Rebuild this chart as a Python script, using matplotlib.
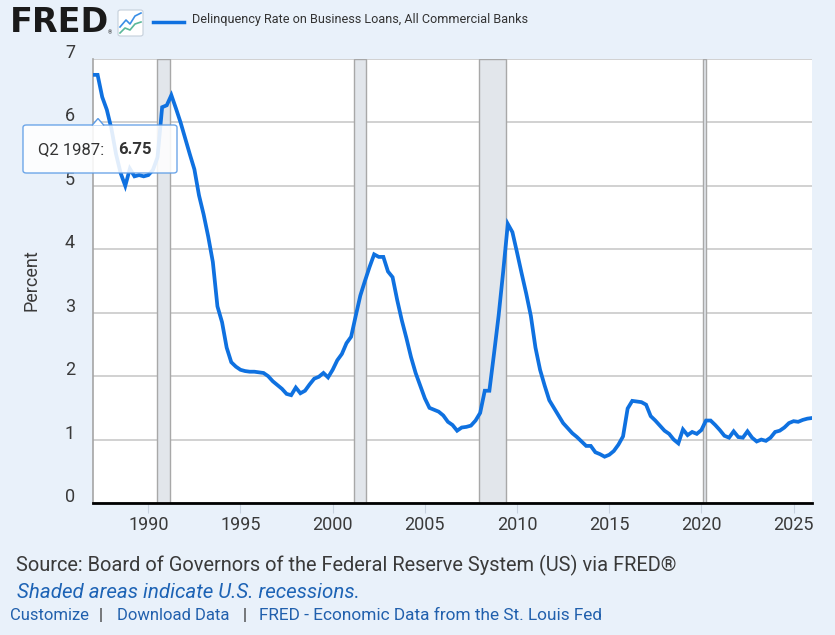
import matplotlib
matplotlib.use("Agg")
import matplotlib.pyplot as plt
import matplotlib.transforms as mtransforms
from matplotlib.patches import FancyBboxPatch, Polygon
from matplotlib.lines import Line2D
import pandas as pd

plt.rcParams['font.family'] = ['Roboto', 'DejaVu Sans']

# quarterly delinquency rate, 1987Q1 .. 2026Q1 (percent)
rate = [
    6.75, 6.75, 6.40, 6.20,   # 1987
    5.90, 5.50, 5.20, 5.00,   # 1988
    5.27, 5.15, 5.17, 5.15,   # 1989
    5.17, 5.25, 5.45, 6.24,   # 1990
    6.27, 6.43, 6.22, 6.00,   # 1991
    5.75, 5.50, 5.26, 4.85,   # 1992
    4.55, 4.20, 3.80, 3.10,   # 1993
    2.85, 2.45, 2.22, 2.15,   # 1994
    2.10, 2.08, 2.07, 2.07,   # 1995
    2.06, 2.05, 2.00, 1.92,   # 1996
    1.86, 1.80, 1.72, 1.70,   # 1997
    1.82, 1.73, 1.77, 1.87,   # 1998
    1.96, 1.99, 2.05, 1.98,   # 1999
    2.10, 2.25, 2.35, 2.52,   # 2000
    2.62, 2.95, 3.27, 3.50,   # 2001
    3.72, 3.92, 3.88, 3.88,   # 2002
    3.65, 3.56, 3.20, 2.88,   # 2003
    2.60, 2.30, 2.05, 1.85,   # 2004
    1.65, 1.50, 1.47, 1.44,   # 2005
    1.38, 1.28, 1.23, 1.14,   # 2006
    1.19, 1.20, 1.22, 1.30,   # 2007
    1.42, 1.77, 1.77, 2.35,   # 2008
    2.95, 3.65, 4.40, 4.27,   # 2009
    3.95, 3.62, 3.30, 2.95,   # 2010
    2.45, 2.10, 1.85, 1.62,   # 2011
    1.50, 1.38, 1.26, 1.18,   # 2012
    1.10, 1.04, 0.97, 0.90,   # 2013
    0.90, 0.80, 0.77, 0.73,   # 2014
    0.76, 0.82, 0.92, 1.05,   # 2015
    1.49, 1.61, 1.60, 1.59,   # 2016
    1.55, 1.37, 1.30, 1.22,   # 2017
    1.14, 1.09, 1.00, 0.94,   # 2018
    1.16, 1.07, 1.12, 1.09,   # 2019
    1.15, 1.30, 1.30, 1.23,   # 2020
    1.15, 1.06, 1.03, 1.13,   # 2021
    1.04, 1.03, 1.13, 1.03,   # 2022
    0.97, 1.00, 0.98, 1.03,   # 2023
    1.12, 1.14, 1.19, 1.26,   # 2024
    1.29, 1.28, 1.31, 1.33,   # 2025
    1.34,                     # 2026
]
recession_start = ['1990-07-01', '2001-03-01', '2007-12-01', '2020-02-01']
recession_end = ['1991-03-01', '2001-11-01', '2009-06-01', '2020-04-01']
year_ticks = [1990, 1995, 2000, 2005, 2010, 2015, 2020, 2025]
pct_ticks = [0, 1, 2, 3, 4, 5, 6, 7]
series_name = 'Delinquency Rate on Business Loans, All Commercial Banks'

quarters = pd.period_range('1987Q1', periods=len(rate), freq='Q')
t = [p.year + (p.quarter - 1) / 4 for p in quarters]


def dec_year(s):
    d = pd.Timestamp(s)
    return d.year + (d.dayofyear - 1) / 365.25


W, H = 835, 635
bg = '#e9f1fa'
blue = '#0f71e0'
fig = plt.figure(figsize=(W / 100, H / 100), dpi=100, facecolor=bg)


def fx(x):
    return x / W


def fy(y):
    return 1 - y / H


ax = fig.add_axes([fx(93), fy(503), fx(812) - fx(93), fy(59) - fy(503)])
ax.set_facecolor('white')

for s, e in zip(recession_start, recession_end):
    ax.axvspan(dec_year(s), dec_year(e), facecolor='#e2e6eb', edgecolor='#a8a8a8',
               linewidth=1.0, zorder=1)

ax.plot(t, rate, color=blue, linewidth=2.7, solid_joinstyle='miter', zorder=3)

ax.set_xlim(1987.0, 2026.0)
ax.set_ylim(0, 7)
ax.set_xticks(year_ticks)
ax.set_yticks(pct_ticks)
ax.grid(axis='y', color='#c9c9c9', linewidth=1.2, zorder=0)
ax.set_axisbelow(True)

for side in ['top', 'right']:
    ax.spines[side].set_visible(False)
ax.spines['left'].set_color('#a5a5a5')
ax.spines['left'].set_linewidth(1.2)
ax.spines['bottom'].set_color('black')
ax.spines['bottom'].set_linewidth(2.0)
ax.spines['bottom'].set_zorder(4)

ax.tick_params(axis='x', length=7, width=0.8, color='#c8d2e0', pad=2,
               labelsize=13, labelcolor='#3a3a3a')
ax.tick_params(axis='y', length=0, pad=13, labelsize=13, labelcolor='#3a3a3a')
offset = mtransforms.ScaledTranslation(0, 0.08, fig.dpi_scale_trans)
for lab in ax.get_yticklabels():
    lab.set_transform(lab.get_transform() + offset)

fig.text(fx(31), fy(280), 'Percent', rotation=90, ha='center', va='center',
         fontsize=13, color='#3a3a3a')

# header: logo + legend
fig.text(fx(10), fy(23), 'FRED', fontsize=24, fontweight='bold', color='#1a1a1a',
         family='DejaVu Sans', ha='left', va='center')
fig.text(fx(108), fy(33), '®', fontsize=4, color='#1a1a1a', ha='left', va='center')
fig.patches.append(FancyBboxPatch((fx(118), fy(36)), fx(25), fy(10) - fy(36),
                                  boxstyle='round,pad=0,rounding_size=0.003',
                                  transform=fig.transFigure, facecolor='white',
                                  edgecolor='#c5cfdb', linewidth=0.8))
fig.lines.append(Line2D([fx(120), fx(126), fx(130), fx(135), fx(141)],
                        [fy(27), fy(20), fy(24), fy(16), fy(13)],
                        transform=fig.transFigure, color='#3a8ee6', linewidth=1.2))
fig.lines.append(Line2D([fx(120), fx(125), fx(130), fx(135), fx(141)],
                        [fy(33), fy(28), fy(30), fy(24), fy(22)],
                        transform=fig.transFigure, color='#5bb89a', linewidth=1.2))
fig.lines.append(Line2D([fx(153), fx(184)], [fy(22), fy(22)],
                        transform=fig.transFigure, color=blue, linewidth=2.5))
fig.text(fx(192), fy(20), series_name, fontsize=9.1, color='#333333',
         ha='left', va='center')

# hover tooltip
tip_box = FancyBboxPatch((fx(23), fy(173)), fx(177) - fx(23), fy(125) - fy(173),
                         boxstyle='round,pad=0,rounding_size=0.004',
                         transform=fig.transFigure, facecolor='white', alpha=0.88,
                         edgecolor='#5a9be6', linewidth=1.0, zorder=10)
fig.patches.append(tip_box)
fig.patches.append(Polygon([(fx(92), fy(125.5)), (fx(98), fy(118.5)), (fx(104), fy(125.5))],
                           closed=False, transform=fig.transFigure, facecolor='white',
                           edgecolor='#5a9be6', linewidth=1.0, zorder=11))
fig.text(fx(38), fy(150), 'Q2 1987:', fontsize=12, color='#333333',
         ha='left', va='center', zorder=12)
fig.text(fx(118), fy(150), '{:.2f}'.format(rate[1]), fontsize=12, fontweight='bold',
         color='#333333', ha='left', va='center', zorder=12)

# footer
fig.text(fx(16), fy(565), 'Source: Board of Governors of the Federal Reserve System (US) via FRED®',
         fontsize=14.4, color='#3a3a3a', ha='left', va='center')
fig.text(fx(17), fy(593), 'Shaded areas indicate U.S. recessions.', fontsize=14.8,
         style='italic', color='#1d63b5', ha='left', va='center')
link_blue = '#2160ad'
fig.text(fx(10), fy(616), 'Customize', fontsize=12, color=link_blue, ha='left', va='center')
fig.text(fx(101), fy(616), '|', fontsize=12, color='#333333', ha='center', va='center')
fig.text(fx(117), fy(616), 'Download Data', fontsize=12, color=link_blue, ha='left', va='center')
fig.text(fx(245), fy(616), '|', fontsize=12, color='#333333', ha='center', va='center')
fig.text(fx(259), fy(616), 'FRED - Economic Data from the St. Louis Fed', fontsize=12.4,
         color=link_blue, ha='left', va='center')

fig.savefig('out.png', dpi=100, facecolor=bg)
